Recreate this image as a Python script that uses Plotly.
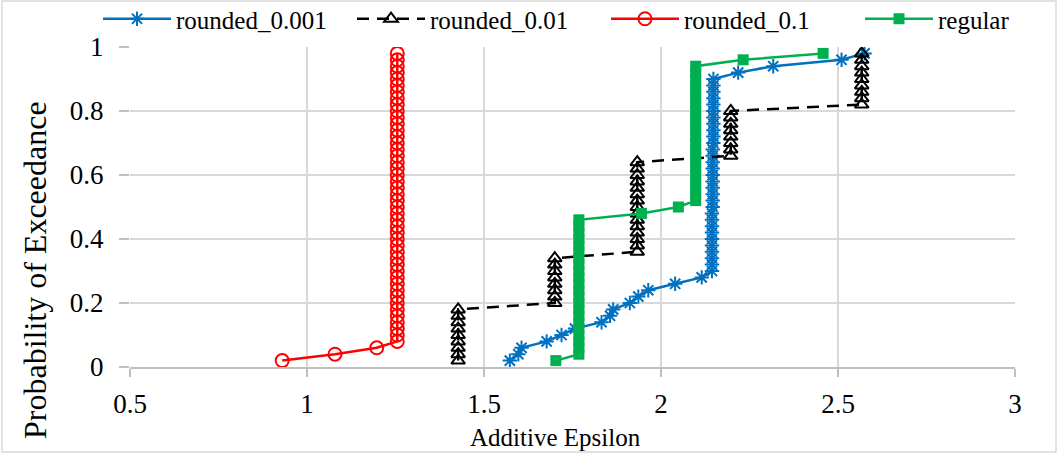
import plotly.graph_objects as go

# Exceedance probabilities shared by every series (49 sorted samples)
exceedance = [
    0.02, 0.04, 0.06, 0.08, 0.10, 0.12, 0.14, 0.16, 0.18, 0.20,
    0.22, 0.24, 0.26, 0.28, 0.30, 0.32, 0.34, 0.36, 0.38, 0.40,
    0.42, 0.44, 0.46, 0.48, 0.50, 0.52, 0.54, 0.56, 0.58, 0.60,
    0.62, 0.64, 0.66, 0.68, 0.70, 0.72, 0.74, 0.76, 0.78, 0.80,
    0.82, 0.84, 0.86, 0.88, 0.90, 0.92, 0.94, 0.96, 0.98,
]

# Additive epsilon per sample, one list per rounding scheme
rounded_0001 = [
    1.573, 1.597, 1.606, 1.677, 1.719, 1.757, 1.832, 1.856, 1.865, 1.912,
    1.936, 1.964, 2.040, 2.115, 2.144, 2.144, 2.144, 2.144, 2.144, 2.144,
    2.144, 2.144, 2.144, 2.144, 2.146, 2.146, 2.146, 2.146, 2.146, 2.146,
    2.146, 2.146, 2.146, 2.146, 2.148, 2.148, 2.148, 2.148, 2.148, 2.148,
    2.148, 2.148, 2.148, 2.148, 2.148, 2.218, 2.317, 2.510, 2.575,
]
rounded_001 = [
    1.427, 1.427, 1.427, 1.427, 1.427, 1.427, 1.427, 1.427, 1.427, 1.700,
    1.700, 1.700, 1.700, 1.700, 1.700, 1.700, 1.700, 1.933, 1.933, 1.933,
    1.933, 1.933, 1.933, 1.933, 1.933, 1.933, 1.933, 1.933, 1.933, 1.933,
    1.933, 1.933, 2.197, 2.197, 2.197, 2.197, 2.197, 2.197, 2.197, 2.197,
    2.567, 2.567, 2.567, 2.567, 2.567, 2.567, 2.567, 2.567, 2.567,
]
rounded_01 = [
    0.930, 1.079, 1.197, 1.255, 1.255, 1.255, 1.255, 1.255, 1.255, 1.255,
    1.255, 1.255, 1.255, 1.255, 1.255, 1.255, 1.255, 1.255, 1.255, 1.255,
    1.255, 1.255, 1.255, 1.255, 1.255, 1.255, 1.255, 1.255, 1.255, 1.255,
    1.255, 1.255, 1.255, 1.255, 1.255, 1.255, 1.255, 1.255, 1.255, 1.255,
    1.255, 1.255, 1.255, 1.255, 1.255, 1.255, 1.255, 1.255, 1.255,
]
regular = [
    1.703, 1.768, 1.768, 1.768, 1.768, 1.768, 1.768, 1.768, 1.768, 1.768,
    1.768, 1.768, 1.768, 1.768, 1.768, 1.768, 1.768, 1.768, 1.768, 1.768,
    1.768, 1.768, 1.768, 1.945, 2.049, 2.098, 2.098, 2.098, 2.098, 2.098,
    2.098, 2.098, 2.098, 2.098, 2.098, 2.098, 2.098, 2.098, 2.098, 2.098,
    2.098, 2.098, 2.098, 2.098, 2.098, 2.098, 2.098, 2.232, 2.458,
]

x_ticks = [0.5, 1, 1.5, 2, 2.5, 3]
x_tick_labels = ["0.5", "1", "1.5", "2", "2.5", "3"]
y_ticks = [0, 0.2, 0.4, 0.6, 0.8, 1]
y_tick_labels = ["0", "0.2", "0.4", "0.6", "0.8", "1"]

SERIF = "Liberation Serif, Times New Roman, serif"
GRID = "#D9D9D9"

fig = go.Figure()

fig.add_trace(go.Scatter(
    x=rounded_0001, y=exceedance, name="rounded_0.001", mode="lines+markers",
    line=dict(color="#0070C0", width=2.5),
    marker=dict(symbol="asterisk-open", size=12,
                line=dict(color="#0070C0", width=2)),
))
fig.add_trace(go.Scatter(
    x=rounded_001, y=exceedance, name="rounded_0.01", mode="lines+markers",
    line=dict(color="#000000", width=2.5, dash="12px,8px"),
    marker=dict(symbol="triangle-up-open", size=12,
                line=dict(color="#000000", width=2)),
))
fig.add_trace(go.Scatter(
    x=rounded_01, y=exceedance, name="rounded_0.1", mode="lines+markers",
    line=dict(color="#FF0000", width=2.5),
    marker=dict(symbol="circle-open", size=13,
                line=dict(color="#FF0000", width=2)),
))
fig.add_trace(go.Scatter(
    x=regular, y=exceedance, name="regular", mode="lines+markers",
    line=dict(color="#00B050", width=2.5),
    marker=dict(symbol="square", size=11, color="#00B050"),
))

L, R, T, B = 130, 43, 47, 87
W, H = 1058, 454
pw, ph = W - L - R, H - T - B


def px_x(px):
    return (px - L) / pw


def px_y(py):
    return (H - B - py) / ph


fig.update_layout(
    width=W, height=H,
    margin=dict(l=L, r=R, t=T, b=B, autoexpand=False),
    paper_bgcolor="white", plot_bgcolor="white",
    font=dict(family=SERIF, color="#000000"),
    showlegend=True,
    legend=dict(
        orientation="h", x=px_x(98), y=px_y(-4), xanchor="left", yanchor="top",
        font=dict(family=SERIF, size=25), itemwidth=68,
        entrywidth=171, entrywidthmode="pixels",
        bgcolor="rgba(0,0,0,0)", traceorder="normal",
    ),
    xaxis=dict(
        range=[0.5, 3], tickvals=x_ticks, ticktext=x_tick_labels,
        showgrid=True, gridcolor=GRID, gridwidth=1.5,
        showline=True, linecolor="#BFBFBF", linewidth=2,
        ticks="outside", ticklen=8, tickcolor="#BFBFBF", tickwidth=1.5,
        tickfont=dict(family=SERIF, size=27), zeroline=False,
        ticklabelstandoff=4,
    ),
    yaxis=dict(
        range=[0, 1], tickvals=y_ticks, ticktext=y_tick_labels,
        showgrid=True, gridcolor=GRID, gridwidth=1.5,
        showline=False,
        ticks="outside", ticklen=10, tickcolor="#BFBFBF", tickwidth=1.5,
        tickfont=dict(family=SERIF, size=27), zeroline=False,
        ticklabelstandoff=10,
    ),
    annotations=[
        dict(text="Additive Epsilon", xref="paper", yref="paper",
             x=px_x(555), y=px_y(437), xanchor="center", yanchor="middle",
             showarrow=False, font=dict(family=SERIF, size=25)),
        dict(text="Probability of Exceedance", xref="paper", yref="paper",
             x=px_x(35), y=px_y(270), xanchor="center", yanchor="middle",
             showarrow=False, textangle=-90,
             font=dict(family=SERIF, size=32)),
    ],
    shapes=[
        dict(type="rect", xref="paper", yref="paper", layer="below",
             x0=px_x(2), x1=px_x(1056), y0=px_y(452), y1=px_y(1),
             line=dict(color=GRID, width=1.5)),
    ],
)

fig.write_html("out.html")
